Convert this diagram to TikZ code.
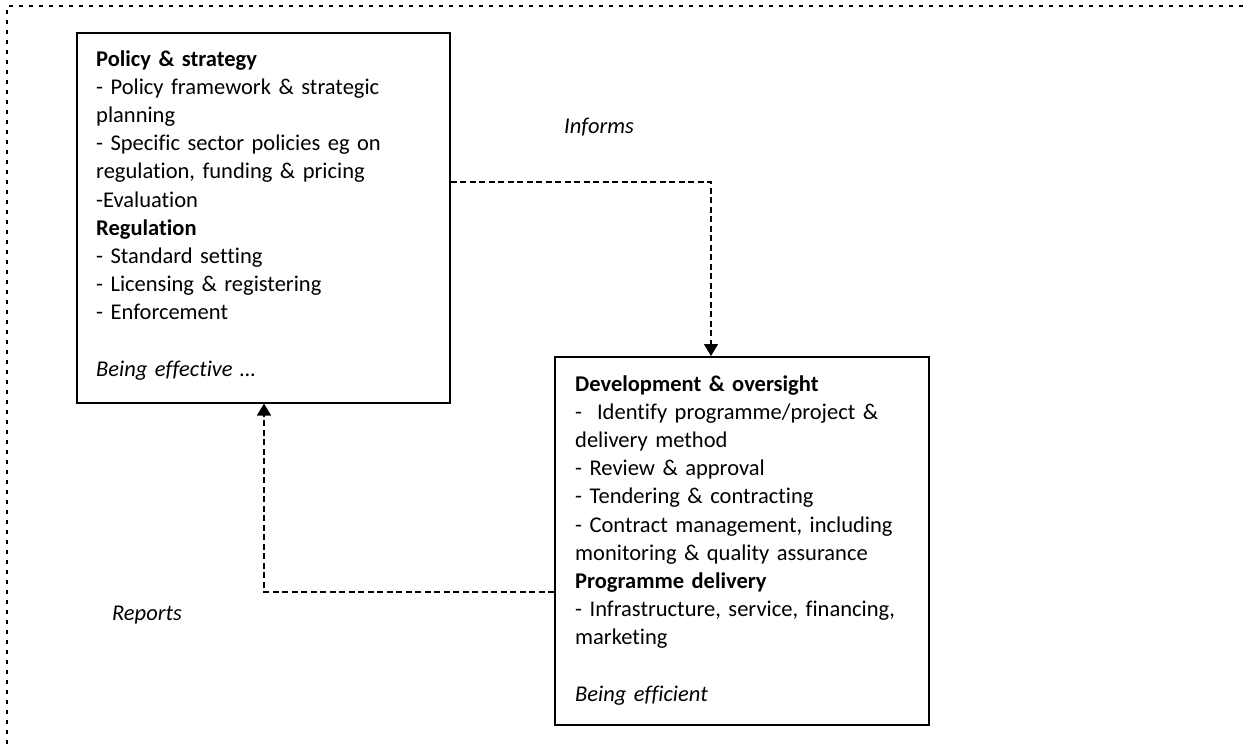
\documentclass[tikz,border=0pt]{standalone}
\usepackage{fontspec}
\setmainfont{Carlito}[RawFeature=-liga]
\usetikzlibrary{arrows.meta}
\begin{document}
\begin{tikzpicture}[x=1pt,y=-1pt,
  box/.style={draw, line width=1.6pt, inner sep=0pt, anchor=north west},
  boxtext/.style={anchor=base west, inner sep=0pt, text width=#1, align=left,
    font=\fontsize{22.5}{28.2}\selectfont},
  conn/.style={line width=1.3pt, dash pattern=on 6pt off 3.5pt, -{Triangle[width=14pt,length=12pt]}},
  lbl/.style={font=\fontsize{22.5}{26}\selectfont\itshape, inner sep=0pt},
  outer/.style={line width=1.8pt, dash pattern=on 4pt off 6pt}]
\useasboundingbox (0,0) rectangle (1250,744);
\draw[outer] (7,744) -- (7,6) -- (1246,6);
% boxes
\node[box, minimum width=373pt, minimum height=370pt] (pol) at (76,32) {};
\node[box, minimum width=374pt, minimum height=368pt] (dev) at (554,356) {};
% texts
\node[boxtext=350pt] (poltext) at (96,66) {\textbf{Policy \& strategy}\\
- Policy framework \& strategic\\
planning\\
- Specific sector policies eg on\\
regulation, funding \& pricing\\
-Evaluation\\
\textbf{Regulation}\\
- Standard setting\\
- Licensing \& registering\\
- Enforcement\\
\mbox{}\\
\textit{Being effective …}};
\node[boxtext=350pt] (devtext) at (575,391) {\textbf{Development \& oversight}\\
-\ \ Identify programme/project \&\\
delivery method\\
- Review \& approval\\
- Tendering \& contracting\\
- Contract management, including\\
monitoring \& quality assurance\\
\textbf{Programme delivery}\\
- Infrastructure, service, financing,\\
marketing\\
\mbox{}\\
\textit{Being efficient}};
% labels
\node[lbl] (informs) at (599,127) {Informs};
\node[lbl] (reports) at (147,615) {Reports};
% connectors
\coordinate (infA) at (pol.north east |- 0,182);
\coordinate (infB) at (dev.north west -| 711,0);
\draw[conn] (infA) -| (infB);
\coordinate (repA) at (dev.north west |- 0,592);
\coordinate (repB) at (pol.south west -| 264,0);
\draw[conn] (repA) -| (repB);
\end{tikzpicture}
\end{document}
